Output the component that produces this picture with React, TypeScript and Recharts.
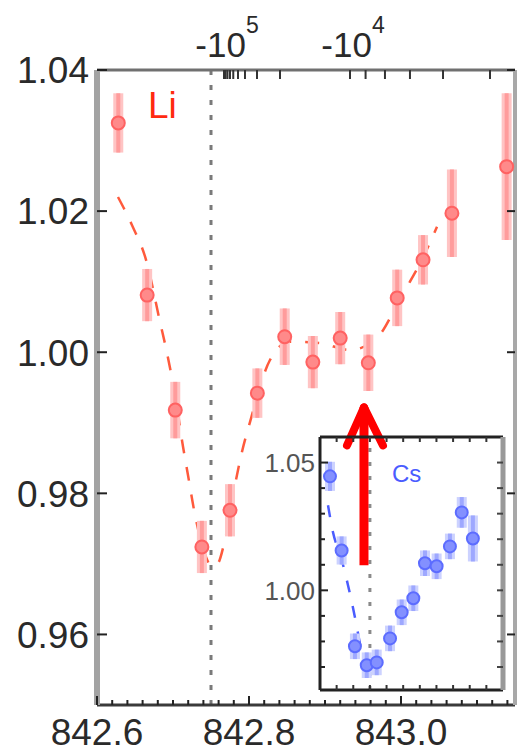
import React from 'react';
import {
  ComposedChart,
  Scatter,
  Line,
  XAxis,
  YAxis,
  ErrorBar,
  ReferenceLine,
  ReferenceDot,
} from 'recharts';

const FONT = '"Liberation Sans", Arial, Helvetica, sans-serif';

// ---- Main plot (Li) ----
const liX = [842.628, 842.666, 842.703, 842.738, 842.775, 842.811, 842.847, 842.884, 842.92, 842.957, 842.995, 843.029, 843.067, 843.139];
const liY = [1.0325, 1.0081, 0.9918, 0.9724, 0.9776, 0.9942, 1.0022, 0.9986, 1.002, 0.9985, 1.0077, 1.0131, 1.0197, 1.0263];
const liErr = [0.0042, 0.0037, 0.004, 0.0037, 0.0037, 0.0035, 0.004, 0.0037, 0.0037, 0.004, 0.004, 0.0035, 0.0062, 0.0104];

const liFitX = [842.6276, 842.6461, 842.6645, 842.6829, 842.6921, 842.7026, 842.7132, 842.7197, 842.7276, 842.7382, 842.7513, 842.7592, 842.7671, 842.7829, 842.7908, 842.8013, 842.8276, 842.8539, 842.8934, 842.9329, 842.9697, 842.9947, 843.0118, 843.0289, 843.0474];
const liFitY = [1.022, 1.018, 1.0131, 1.0043, 0.9999, 0.994, 0.9866, 0.9826, 0.9777, 0.9727, 0.9697, 0.9701, 0.9728, 0.9819, 0.9859, 0.9901, 0.9989, 1.0015, 1.0013, 1.0003, 1.0022, 1.0067, 1.01, 1.0134, 1.0178];

const mainXDomain = [842.6, 843.15];
const mainYDomain = [0.95, 1.04];
const bottomTicks = [842.6, 842.62, 842.64, 842.66, 842.68, 842.7, 842.72, 842.74, 842.76, 842.78, 842.8, 842.82, 842.84, 842.86, 842.88, 842.9, 842.92, 842.94, 842.96, 842.98, 843.0, 843.02, 843.04, 843.06, 843.08, 843.1, 843.12, 843.14];
const bottomLabelValues = [842.6, 842.8, 843.0];
const bottomLabelTexts = ['842.6', '842.8', '843.0'];
const leftTicks = [0.96, 0.98, 1.0, 1.02, 1.04];
const leftTickLabels = ['0.96', '0.98', '1.00', '1.02', '1.04'];
// top axis (field scale), tick positions read in wavelength units
const topTicks = [842.7671, 842.7692, 842.7717, 842.775, 842.7793, 842.7855, 842.7947, 842.8105, 842.8408, 842.9329, 842.9534, 842.9789, 843.0118, 843.0553, 843.1171];
const topLabelValues = [842.7671, 842.9329];
const topLabelBase = ['-10', '-10'];
const topLabelExp = ['5', '4'];
const dottedLineX = 842.75;

// ---- Inset (Cs) ----
const csX = [0.6, 1.3, 2.1, 2.81, 3.41, 4.21, 4.91, 5.61, 6.31, 7.01, 7.81, 8.52, 9.19];
const csY = [1.0446, 1.0156, 0.9781, 0.9707, 0.9718, 0.9812, 0.9914, 0.9969, 1.0106, 1.0094, 1.0172, 1.0305, 1.0203];
const csErr = [0.0057, 0.0055, 0.005, 0.005, 0.005, 0.005, 0.005, 0.005, 0.005, 0.005, 0.005, 0.006, 0.009];
const csFitX = [0.481, 0.781, 1.262, 1.683, 2.103, 2.464, 2.825];
const csFitY = [1.0333, 1.0227, 1.0129, 1.002, 0.9894, 0.9773, 0.9699];
const insetXDomain = [0, 11];
const insetYDomain = [0.961, 1.06];
const insetXTicks = [1, 2, 3, 4, 5, 6, 7, 8, 9, 10];
const insetYTicks = [0.97, 0.98, 0.99, 1.0, 1.01, 1.02, 1.03, 1.04, 1.05];
const insetYLabelValues = [1.0, 1.05];
const insetYLabelTexts = ['1.00', '1.05'];
const insetDottedX = 3;

// arrow annotation (inset data units)
const arrowX = 2.644;
const arrowBase = 1.0098;
const arrowTip = 1.0716;
const arrowArmLeftX = 1.623;
const arrowArmRightX = 3.786;
const arrowArmY = 1.0567;

const liData = liX.map((x, i) => ({ x, y: liY[i], err: liErr[i] }));
const liFit = liFitX.map((x, i) => ({ x, y: liFitY[i] }));
const csData = csX.map((x, i) => ({ x, y: csY[i], err: csErr[i] }));
const csFit = csFitX.map((x, i) => ({ x, y: csFitY[i] }));

const near = (a: number, b: number) => Math.abs(a - b) < 1e-6;

const BottomTick = (props: any) => {
  const { x, y, payload } = props;
  const idx = bottomLabelValues.findIndex((v) => near(v, payload.value));
  return (
    <g>
      <line x1={x} y1={y} x2={x} y2={y - (idx >= 0 ? 9 : 5)} stroke="#222" strokeWidth={2} />
      {idx >= 0 && (
        <text x={x} y={y + 40} textAnchor="middle" fontSize={37} fill="#2a2a2a" fontFamily={FONT}>
          {bottomLabelTexts[idx]}
        </text>
      )}
    </g>
  );
};

const TopTick = (props: any) => {
  const { x, y, payload } = props;
  const idx = topLabelValues.findIndex((v) => near(v, payload.value));
  return (
    <g>
      <line x1={x} y1={y} x2={x} y2={y + 9} stroke="#333" strokeWidth={2} />
      {idx >= 0 && (
        <text x={x + 3} y={y - 13} textAnchor="middle" fill="#2a2a2a" fontFamily={FONT}>
          <tspan fontSize={35}>{topLabelBase[idx]}</tspan>
          <tspan fontSize={23} dy={-24}>{topLabelExp[idx]}</tspan>
        </text>
      )}
    </g>
  );
};

const LeftTick = (props: any) => {
  const { x, y, payload } = props;
  const idx = leftTicks.findIndex((v) => near(v, payload.value));
  return (
    <g>
      <line x1={x} y1={y} x2={x + 10} y2={y} stroke="#222" strokeWidth={2} />
      {idx >= 0 && (
        <text x={x - 8} y={y} dy="0.36em" textAnchor="end" fontSize={37} fill="#2a2a2a" fontFamily={FONT}>
          {leftTickLabels[idx]}
        </text>
      )}
    </g>
  );
};

const RightTick = (props: any) => {
  const { x, y } = props;
  return <line x1={x} y1={y} x2={x - 8} y2={y} stroke="#222" strokeWidth={2} />;
};

const InsetBottomTick = (props: any) => {
  const { x, y } = props;
  return <line x1={x} y1={y} x2={x} y2={y - 5} stroke="#333" strokeWidth={2} />;
};
const InsetTopTick = (props: any) => {
  const { x, y } = props;
  return <line x1={x} y1={y} x2={x} y2={y + 5} stroke="#333" strokeWidth={2} />;
};
const InsetLeftTick = (props: any) => {
  const { x, y, payload } = props;
  const idx = insetYLabelValues.findIndex((v) => near(v, payload.value));
  return (
    <g>
      <line x1={x} y1={y} x2={x + (idx >= 0 ? 8 : 5)} y2={y} stroke="#222" strokeWidth={2} />
      {idx >= 0 && (
        <text x={x - 5} y={y} dy="0.36em" textAnchor="end" fontSize={26} fill="#555" fontFamily={FONT}>
          {insetYLabelTexts[idx]}
        </text>
      )}
    </g>
  );
};
const InsetRightTick = (props: any) => {
  const { x, y } = props;
  return <line x1={x} y1={y} x2={x - 6} y2={y} stroke="#444" strokeWidth={2} />;
};

const liShape = (p: any) => (
  <circle cx={p.cx} cy={p.cy} r={6.5} fill="#ff8a8a" stroke="#ff6262" strokeWidth={2} />
);
const csShape = (p: any) => (
  <circle cx={p.cx} cy={p.cy} r={6} fill="#8390ff" stroke="#5c6cff" strokeWidth={2} />
);

export default function App() {
  return (
    <div style={{ position: 'absolute', left: 0, top: 0, width: 517, height: 754, background: '#fff', fontFamily: FONT }}>
      <div style={{ position: 'absolute', left: 0, top: 0 }}>
        <ComposedChart width={517} height={754} margin={{ top: 40, right: 0, bottom: 0, left: 0 }}>
          <XAxis
            xAxisId="b"
            type="number"
            dataKey="x"
            domain={mainXDomain}
            allowDataOverflow
            ticks={bottomTicks}
            interval={0}
            height={49}
            tickSize={0}
            tickMargin={0}
            tickLine={false}
            tick={<BottomTick />}
            axisLine={{ stroke: '#3a3a3a', strokeWidth: 3 }}
          />
          <XAxis
            xAxisId="t"
            orientation="top"
            type="number"
            dataKey="x"
            domain={mainXDomain}
            allowDataOverflow
            ticks={topTicks}
            interval={0}
            height={30}
            tickSize={0}
            tickMargin={0}
            tickLine={false}
            tick={<TopTick />}
            axisLine={{ stroke: '#707070', strokeWidth: 3 }}
          />
          <YAxis
            yAxisId="l"
            type="number"
            dataKey="y"
            domain={mainYDomain}
            allowDataOverflow
            ticks={leftTicks}
            interval={0}
            width={97}
            tickSize={0}
            tickMargin={0}
            tickLine={false}
            tick={<LeftTick />}
            axisLine={{ stroke: '#a3a3a3', strokeWidth: 6 }}
          />
          <YAxis
            yAxisId="r"
            orientation="right"
            type="number"
            domain={mainYDomain}
            allowDataOverflow
            ticks={leftTicks}
            interval={0}
            width={2}
            tickSize={0}
            tickMargin={0}
            tickLine={false}
            tick={<RightTick />}
            axisLine={{ stroke: '#a8a8a8', strokeWidth: 4 }}
          />
          <ReferenceLine
            xAxisId="b"
            yAxisId="l"
            x={dottedLineX}
            stroke="#7a7a7a"
            strokeWidth={3}
            strokeDasharray="5 10"
          />
          <Line
            xAxisId="b"
            yAxisId="l"
            data={liFit}
            dataKey="y"
            type="monotone"
            stroke="#ff5a3c"
            strokeWidth={2.5}
            strokeDasharray="14 14"
            dot={false}
            activeDot={false}
            isAnimationActive={false}
          />
          <Scatter xAxisId="b" yAxisId="l" data={liData} dataKey="y" shape={liShape} isAnimationActive={false}>
            <ErrorBar dataKey="err" direction="y" width={0} stroke="#ffc4c4" strokeWidth={10} />
            <ErrorBar dataKey="err" direction="y" width={0} stroke="#ff9c9c" strokeWidth={4} />
          </Scatter>
          <ReferenceDot
            xAxisId="b"
            yAxisId="l"
            x={842.667}
            y={1.0332}
            r={0}
            shape={(p: any) => (
              <text x={p.cx} y={p.cy} fontSize={37} fill="#ff2a10" fontFamily={FONT}>
                Li
              </text>
            )}
          />
        </ComposedChart>
      </div>
      <div style={{ position: 'absolute', left: 320, top: 437, width: 183, height: 253, background: '#fff' }} />
      <div style={{ position: 'absolute', left: 258, top: 398 }}>
        <ComposedChart width={250} height={297} margin={{ top: 38, right: 4, bottom: 4, left: 0 }}>
          <XAxis
            xAxisId="b"
            type="number"
            dataKey="x"
            domain={insetXDomain}
            allowDataOverflow
            ticks={insetXTicks}
            interval={0}
            height={1}
            tickSize={0}
            tickMargin={0}
            tickLine={false}
            tick={<InsetBottomTick />}
            axisLine={{ stroke: '#222', strokeWidth: 3 }}
          />
          <XAxis
            xAxisId="t"
            orientation="top"
            type="number"
            dataKey="x"
            domain={insetXDomain}
            allowDataOverflow
            ticks={insetXTicks}
            interval={0}
            height={1}
            tickSize={0}
            tickMargin={0}
            tickLine={false}
            tick={<InsetTopTick />}
            axisLine={{ stroke: '#222', strokeWidth: 3 }}
          />
          <YAxis
            yAxisId="l"
            type="number"
            dataKey="y"
            domain={insetYDomain}
            allowDataOverflow
            ticks={insetYTicks}
            interval={0}
            width={62}
            tickSize={0}
            tickMargin={0}
            tickLine={false}
            tick={<InsetLeftTick />}
            axisLine={{ stroke: '#222', strokeWidth: 3 }}
          />
          <YAxis
            yAxisId="r"
            orientation="right"
            type="number"
            domain={insetYDomain}
            allowDataOverflow
            ticks={insetYTicks}
            interval={0}
            width={1}
            tickSize={0}
            tickMargin={0}
            tickLine={false}
            tick={<InsetRightTick />}
            axisLine={{ stroke: '#999', strokeWidth: 5 }}
          />
          <ReferenceLine
            xAxisId="b"
            yAxisId="l"
            x={insetDottedX}
            stroke="#8a8a8a"
            strokeWidth={3}
            strokeDasharray="4 10"
          />
          <Line
            xAxisId="b"
            yAxisId="l"
            data={csFit}
            dataKey="y"
            type="monotone"
            stroke="#4a5cff"
            strokeWidth={2.5}
            strokeDasharray="12 14"
            dot={false}
            activeDot={false}
            isAnimationActive={false}
          />
          <Scatter xAxisId="b" yAxisId="l" data={csData} dataKey="y" shape={csShape} isAnimationActive={false}>
            <ErrorBar dataKey="err" direction="y" width={0} stroke="#ccd2ff" strokeWidth={10} />
            <ErrorBar dataKey="err" direction="y" width={0} stroke="#9ea8ff" strokeWidth={4} />
          </Scatter>
          <ReferenceDot
            xAxisId="b"
            yAxisId="l"
            x={4.33}
            y={1.0423}
            r={0}
            shape={(p: any) => (
              <text x={p.cx} y={p.cy} fontSize={24} fill="#4a5cff" fontFamily={FONT}>
                Cs
              </text>
            )}
          />
          <ReferenceLine
            xAxisId="b"
            yAxisId="l"
            ifOverflow="visible"
            segment={[{ x: arrowX, y: arrowBase }, { x: arrowX, y: arrowTip }]}
            stroke="#ff0000"
            strokeWidth={9}
          />
          <ReferenceLine
            xAxisId="b"
            yAxisId="l"
            ifOverflow="visible"
            segment={[{ x: arrowArmLeftX, y: arrowArmY }, { x: arrowX, y: arrowTip }]}
            stroke="#ff0000"
            strokeWidth={8}
            strokeLinecap="round"
          />
          <ReferenceLine
            xAxisId="b"
            yAxisId="l"
            ifOverflow="visible"
            segment={[{ x: arrowArmRightX, y: arrowArmY }, { x: arrowX, y: arrowTip }]}
            stroke="#ff0000"
            strokeWidth={8}
            strokeLinecap="round"
          />
        </ComposedChart>
      </div>
    </div>
  );
}
